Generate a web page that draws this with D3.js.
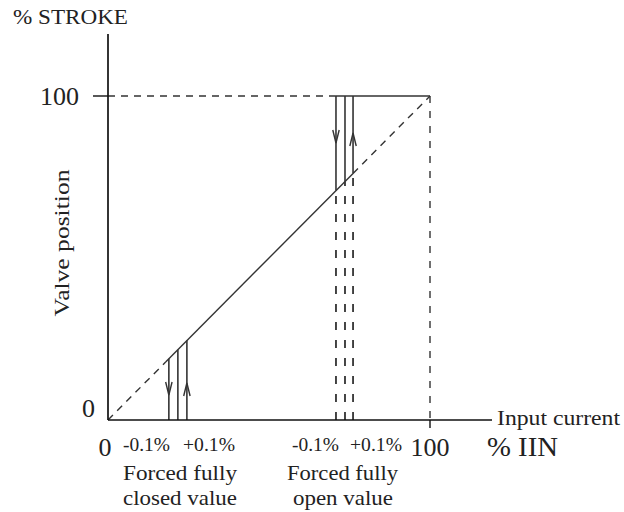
<!DOCTYPE html>
<html>
<head>
<meta charset="utf-8">
<script src="https://cdn.jsdelivr.net/npm/d3@7"></script>
<style>
  body { margin: 0; background: #fff; }
  svg text { font-family: "Liberation Serif", "DejaVu Serif", serif; fill: #222; }
</style>
</head>
<body>
<svg id="chart" width="624" height="512"></svg>
<script>
// values in % of input current (x) and % stroke (y)
const axisTicksX = [0, 100];
const axisTicksY = [0, 100];
const closedLines = [18.9, 21.7, 24.5];   // forced fully closed band
const openLines = [70.8, 73.6, 76.1];     // forced fully open band
const solidRange = [17.9, 76.1];          // solid part of characteristic
const closedLabels = ["-0.1%", "+0.1%"];
const openLabels = ["-0.1%", "+0.1%"];

const svg = d3.select("#chart");
const x = d3.scaleLinear().domain([0, 100]).range([108, 430]);
const y = d3.scaleLinear().domain([0, 100]).range([420, 96]);

const lineCol = "#333";
const dash = "7,6";

function seg(x1, y1, x2, y2, dashed, w) {
  return svg.append("line")
    .attr("x1", x(x1)).attr("y1", y(y1))
    .attr("x2", x(x2)).attr("y2", y(y2))
    .attr("stroke", lineCol)
    .attr("stroke-width", w || 1.4)
    .attr("stroke-dasharray", dashed || null);
}

// dashed diagonal
seg(0, 0, solidRange[0], solidRange[0], dash);
seg(solidRange[1], solidRange[1], 100, 100, dash);
// solid part
seg(solidRange[0], solidRange[0], solidRange[1], solidRange[1]);

// top line: dashed from axis, solid across the open band
seg(0, 100, openLines[0], 100, dash);
seg(openLines[0], 100, 100, 100);
// dashed drop at 100
seg(100, 100, 100, 0, "7,8");

// closed band verticals from diagonal to axis
closedLines.forEach((v) => seg(v, v, v, 0, null, 1.6));
// open band verticals: solid from 100 to diagonal, dashed to axis
openLines.forEach((v) => {
  seg(v, 100, v, v, null, 1.6);
  seg(v, 0, v, v, "8,10", 1.8);
});

// arrowheads
function arrow(v, tipY, dir) {
  const px = x(v), ty = y(tipY);
  const len = 13, hw = 3.2;
  svg.append("path")
    .attr("d", `M${px - hw},${ty - dir * len}L${px},${ty}L${px + hw},${ty - dir * len}`)
    .attr("fill", "none")
    .attr("stroke", lineCol)
    .attr("stroke-width", 1.4);
}
arrow(closedLines[0], y.invert(395), 1);
arrow(closedLines[2], y.invert(383), -1);
arrow(openLines[0], y.invert(143), 1);
arrow(openLines[2], y.invert(133), -1);

// axes
svg.append("line").attr("x1", x(0)).attr("y1", y(0)).attr("x2", x(0)).attr("y2", 34)
  .attr("stroke", "#111").attr("stroke-width", 1.7);
svg.append("line").attr("x1", x(0)).attr("y1", y(0)).attr("x2", 492).attr("y2", y(0))
  .attr("stroke", "#111").attr("stroke-width", 1.7);
// ticks
svg.append("line").attr("x1", 93).attr("x2", x(0)).attr("y1", y(100)).attr("y2", y(100))
  .attr("stroke", "#111").attr("stroke-width", 1.4);
svg.append("line").attr("x1", x(100)).attr("x2", x(100)).attr("y1", y(0)).attr("y2", y(0) + 8)
  .attr("stroke", "#111").attr("stroke-width", 1.4);

// tick labels
svg.selectAll(".ytl").data(axisTicksY).enter().append("text")
  .attr("x", (d) => d === 0 ? 95 : 79)
  .attr("y", (d) => y(d) + (d === 0 ? -3 : 9))
  .attr("text-anchor", "end")
  .attr("font-size", 26)
  .text((d) => d);
svg.selectAll(".xtl").data(axisTicksX).enter().append("text")
  .attr("x", (d) => x(d) + (d === 0 ? -3 : 0))
  .attr("y", 456)
  .attr("text-anchor", "middle")
  .attr("font-size", 26)
  .text((d) => d);

function label(t, lx, ly, size, w, transform) {
  const el = svg.append("text").attr("font-size", size)
    .attr("textLength", w).attr("lengthAdjust", "spacingAndGlyphs").text(t);
  if (transform) el.attr("transform", transform).attr("text-anchor", "middle");
  else el.attr("x", lx).attr("y", ly);
  return el;
}

label("% IIN", 487, 456, 27, 71);
label("Input current", 497, 425, 22, 123);
label("% STROKE", 13, 24, 21, 115);
label("Valve position", 0, 0, 22, 147, "translate(69,243) rotate(-90)");

// band labels
const bandX = [[123, 183], [292, 350]];
[closedLabels, openLabels].forEach((labs, i) => {
  labs.forEach((t, j) => label(t, bandX[i][j], 451, 18, j === 0 ? 47 : 52));
});
const bandText = [
  ["Forced fully", 123, 480, 114], ["closed value", 123, 505, 114],
  ["Forced fully", 287, 480, 111], ["open value", 293, 505, 100]
];
bandText.forEach(([t, bx, by, w]) => label(t, bx, by, 22, w));
</script>
</body>
</html>
